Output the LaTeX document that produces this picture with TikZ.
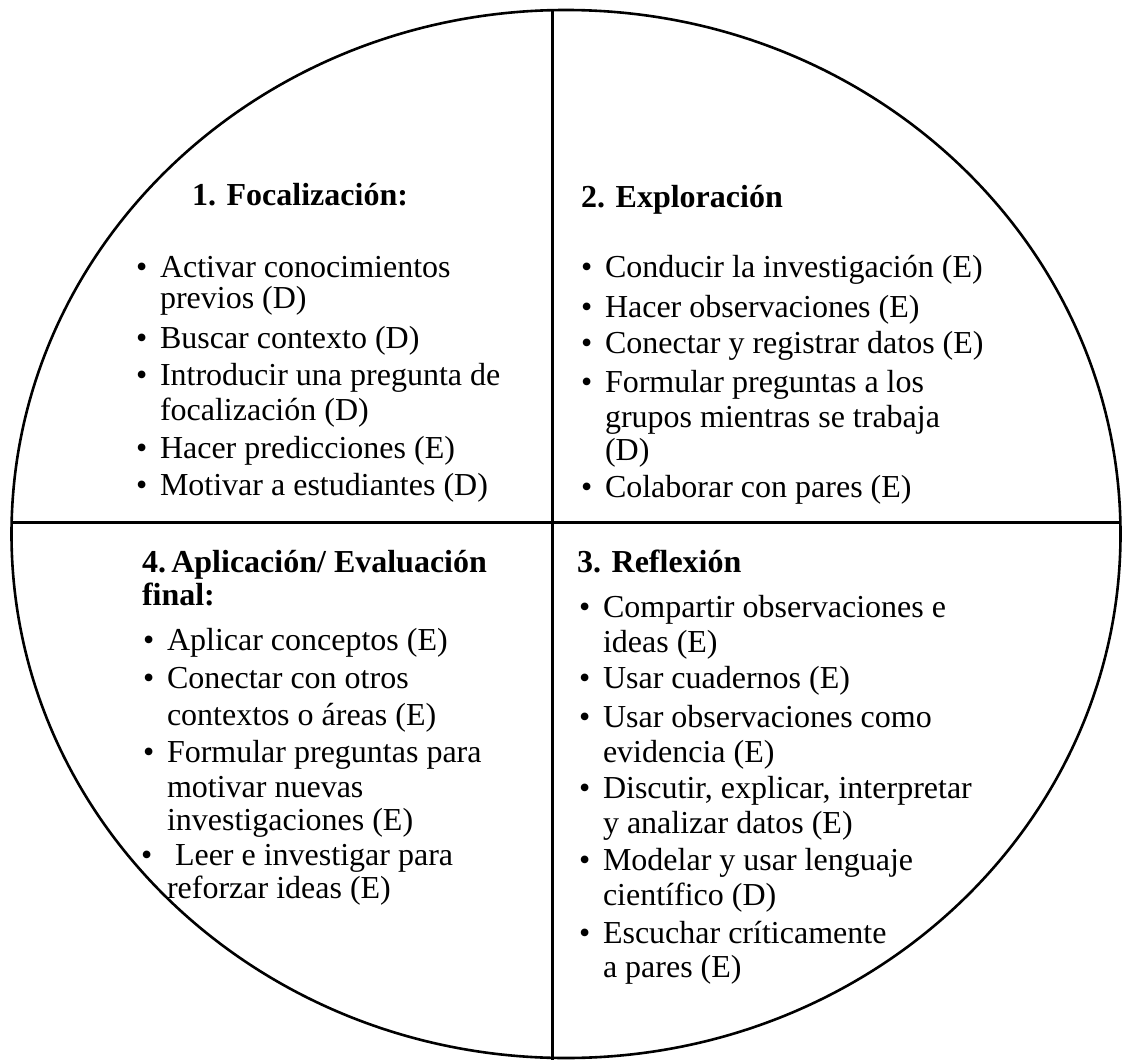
\documentclass[tikz,border=0pt]{standalone}
\usepackage{fontspec}
\setmainfont{Liberation Serif}
\begin{document}
\begin{tikzpicture}[x=1pt,y=-1pt,
  txt/.style={anchor=base west, inner sep=0pt, outer sep=0pt, font=\fontsize{32}{36}\selectfont},
  hd/.style={anchor=base west, inner sep=0pt, outer sep=0pt, font=\fontsize{32}{36}\selectfont\bfseries},
  bul/.style={anchor=base west, inner sep=0pt, outer sep=0pt, font=\fontsize{32}{36}\selectfont},
  ln/.style={line width=2.6pt, black}]
\useasboundingbox (0,0) rectangle (1123,1059);
% circle and dividers
\draw[ln] (566,534) ellipse [x radius=554.5, y radius=524];
\coordinate (vt) at (552.5,10);
\coordinate (vb) at (552.5,1062);
\coordinate (hl) at (11.5,522.7);
\coordinate (hr) at (1120.5,522.7);
\draw[ln] (vt) -- (vb);
\draw[ln] (hl) -- (hr);

% Quadrant 1
\node[hd] (q1h) at (192,206) {1. Focalización:};
\node[bul] (q1b1) at (136,277) {•};
\node[txt] (q1a) at (160,277) {Activar conocimientos};
\node[txt] (q1a2) at (160,308) {previos (D)};
\node[bul] (q1b2) at (136,348) {•};
\node[txt] (q1b) at (160,348) {Buscar contexto (D)};
\node[bul] (q1b3) at (136,385) {•};
\node[txt] (q1c) at (160,385) {Introducir una pregunta de};
\node[txt] (q1c2) at (160,420) {focalización (D)};
\node[bul] (q1b4) at (136,458) {•};
\node[txt] (q1d) at (160,458) {Hacer predicciones (E)};
\node[bul] (q1b5) at (136,495) {•};
\node[txt] (q1e) at (160,495) {Motivar a estudiantes (D)};

% Quadrant 2
\node[hd] (q2h) at (581,208) {2. Exploración};
\node[bul] (q2b1) at (581,277) {•};
\node[txt] (q2a) at (605,277) {Conducir la investigación (E)};
\node[bul] (q2b2) at (581,317) {•};
\node[txt] (q2b) at (605,317) {Hacer observaciones (E)};
\node[bul] (q2b3) at (581,353) {•};
\node[txt] (q2c) at (605,353) {Conectar y registrar datos (E)};
\node[bul] (q2b4) at (581,392) {•};
\node[txt] (q2d) at (605,392) {Formular preguntas a los};
\node[txt] (q2d2) at (605,427) {grupos mientras se trabaja};
\node[txt] (q2d3) at (605,460) {(D)};
\node[bul] (q2b5) at (581,497) {•};
\node[txt] (q2e) at (605,497) {Colaborar con pares (E)};

% Quadrant 4
\node[hd] (q4h) at (142,572) {4.\,Aplicación/ Evaluación};
\node[hd] (q4h2) at (142,605) {final:};
\node[bul] (q4b1) at (143,650) {•};
\node[txt] (q4a) at (167,650) {Aplicar conceptos (E)};
\node[bul] (q4b2) at (143,688) {•};
\node[txt] (q4b) at (167,688) {Conectar con otros};
\node[txt] (q4b2t) at (167,725) {contextos o áreas (E)};
\node[bul] (q4b3) at (143,762) {•};
\node[txt] (q4c) at (167,762) {Formular preguntas para};
\node[txt] (q4c2) at (167,797) {motivar nuevas};
\node[txt] (q4c3) at (167,830) {investigaciones (E)};
\node[bul] (q4b4) at (141,865) {•};
\node[txt] (q4d) at (175,865) {Leer e investigar para};
\node[txt] (q4d2) at (167,898) {reforzar ideas (E)};

% Quadrant 3
\node[hd] (q3h) at (577,572) {3. Reflexión};
\node[bul] (q3b1) at (579,617) {•};
\node[txt] (q3a) at (603,617) {Compartir observaciones e};
\node[txt] (q3a2) at (603,652) {ideas (E)};
\node[bul] (q3b2) at (579,688) {•};
\node[txt] (q3b) at (603,688) {Usar cuadernos (E)};
\node[bul] (q3b3) at (579,727) {•};
\node[txt] (q3c) at (603,727) {Usar observaciones como};
\node[txt] (q3c2) at (603,762) {evidencia (E)};
\node[bul] (q3b4) at (579,798) {•};
\node[txt] (q3d) at (603,798) {Discutir, explicar, interpretar};
\node[txt] (q3d2) at (603,833) {y analizar datos (E)};
\node[bul] (q3b5) at (579,870) {•};
\node[txt] (q3e) at (603,870) {Modelar y usar lenguaje};
\node[txt] (q3e2) at (603,905) {científico (D)};
\node[bul] (q3b6) at (579,943) {•};
\node[txt] (q3f) at (603,943) {Escuchar críticamente};
\node[txt] (q3f2) at (603,977) {a pares (E)};
\end{tikzpicture}
\end{document}
